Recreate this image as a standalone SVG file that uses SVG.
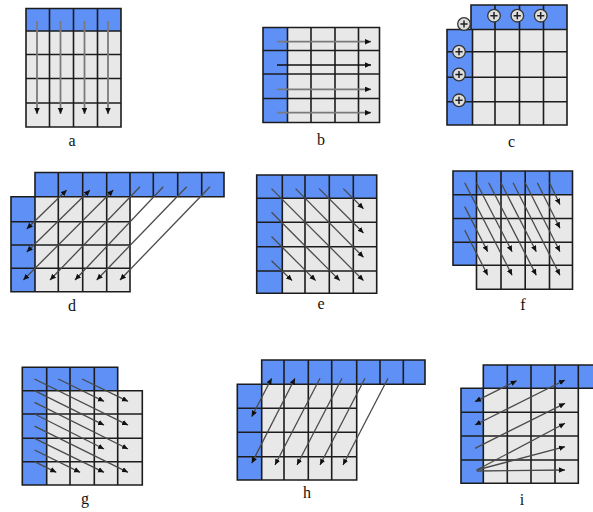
<svg xmlns="http://www.w3.org/2000/svg" xmlns:xlink="http://www.w3.org/1999/xlink" width="593" height="512" viewBox="0 0 593 512">
<style>
.b{fill:#5f90f6}
.g{fill:#e8e8e8}
.grid{fill:none;stroke:#1c1c1c;stroke-width:1.6}
.lbl{font-family:"Liberation Serif","Times New Roman",serif;font-size:16px;fill:#111;text-anchor:middle}
.ar{fill:none;stroke:#7a7a7a;stroke-width:1.8;marker-end:url(#ah)}
.ad{fill:none;stroke:#111;stroke-width:1.5;marker-end:url(#ah)}
.dl{fill:none;stroke:#4a4a4a;stroke-width:1.3;marker-end:url(#ah)}
.dd{fill:none;stroke:#4a4a4a;stroke-width:1.3;marker-end:url(#ah);marker-start:url(#ah)}
</style>
<defs>
<marker id="ah" markerUnits="userSpaceOnUse" markerWidth="7" markerHeight="6" refX="6" refY="2.75" orient="auto-start-reverse">
<path d="M0,0 L6,2.75 L0,5.5 Z" fill="#111"/>
</marker>
<g id="plus">
<circle r="6.3" fill="#dedede" stroke="#333" stroke-width="1.3"/>
<path d="M-3.6,0H3.6M0,-3.6V3.6" stroke="#222" stroke-width="1.5"/>
</g>
</defs>
<rect width="593" height="512" fill="#fff"/>

<g id="panel-a">
<rect class="b" x="26" y="8.5" width="95" height="22.5"/>
<rect class="g" x="26" y="31" width="95" height="96"/>
<path class="grid" d="M26,8.5H121V127H26Z M49.5,8.5V127 M73.5,8.5V127 M97.5,8.5V127 M26,31H121 M26,54.5H121 M26,78.5H121 M26,103H121"/>
<text class="lbl" x="72" y="146">a</text>
</g>

<g id="panel-b">
<rect class="b" x="263" y="27.5" width="24.5" height="95"/>
<rect class="g" x="287.5" y="27.5" width="92" height="95"/>
<path class="grid" d="M263,27.5H379.5V122.5H263Z M287.5,27.5V122.5 M311,27.5V122.5 M335,27.5V122.5 M358.5,27.5V122.5 M263,50.5H379.5 M263,74H379.5 M263,98.5H379.5"/>
<text class="lbl" x="321" y="145">b</text>
</g>

<g id="panel-c">
<rect class="b" x="471" y="5" width="96" height="24.5"/>
<rect class="b" x="447" y="29.5" width="25.5" height="95.5"/>
<rect class="g" x="472.5" y="29.5" width="94.5" height="95.5"/>
<path class="grid" d="M471,5H567V29.5H471Z M495,5V29.5 M519.5,5V29.5 M543.5,5V29.5 M447,29.5H472.5V125H447Z M472.5,29.5H567V125H472.5Z M495,29.5V125 M519.5,29.5V125 M543.5,29.5V125 M447,51.7H567 M447,77.3H567 M447,101.7H567"/>
<use xlink:href="#plus" href="#plus" x="494" y="15.7"/>
<use xlink:href="#plus" href="#plus" x="517.3" y="15.7"/>
<use xlink:href="#plus" href="#plus" x="540.7" y="15.7"/>
<use xlink:href="#plus" href="#plus" x="464" y="24"/>
<use xlink:href="#plus" href="#plus" x="459" y="51.7"/>
<use xlink:href="#plus" href="#plus" x="459" y="74.5"/>
<use xlink:href="#plus" href="#plus" x="459" y="100.3"/>
<text class="lbl" x="511.5" y="147">c</text>
</g>

<g id="panel-d">
<rect class="b" x="35" y="172.5" width="189" height="24.2"/>
<rect class="b" x="11" y="196.7" width="24" height="95"/>
<rect class="g" x="35" y="196.7" width="95" height="95"/>
<path class="grid" d="M35,172.5H224V196.7H35Z M58.3,172.5V196.7 M82.7,172.5V196.7 M106.7,172.5V196.7 M130,172.5V196.7 M153.3,172.5V196.7 M177.7,172.5V196.7 M201.7,172.5V196.7 M11,196.7H35V291.7H11Z M35,196.7H130V291.7H35Z M58.3,196.7V291.7 M82.7,196.7V291.7 M106.7,196.7V291.7 M11,221.7H130 M11,245H130 M11,268.3H130"/>
<text class="lbl" x="72" y="311">d</text>
</g>

<g id="panel-e">
<rect class="b" x="256.7" y="175" width="120" height="23.3"/>
<rect class="b" x="256.7" y="198.3" width="25.6" height="95"/>
<rect class="g" x="282.3" y="198.3" width="94.4" height="95"/>
<path class="grid" d="M256.7,175H376.7V293.3H256.7Z M282.3,175V293.3 M305,175V293.3 M329.3,175V293.3 M353.3,175V293.3 M256.7,198.3H376.7 M256.7,222.3H376.7 M256.7,246.7H376.7 M256.7,271H376.7"/>
<text class="lbl" x="321" y="309">e</text>
</g>

<g id="panel-f">
<rect class="b" x="453" y="171" width="119.5" height="23.7"/>
<rect class="b" x="453" y="194.7" width="23.5" height="70.5"/>
<rect class="g" x="476.5" y="194.7" width="96" height="94.6"/>
<path class="grid" d="M453,171H572.5V289.3H476.5V265.2H453Z M476.5,171V289.3 M501,171V289.3 M525.2,171V289.3 M549.5,171V289.3 M453,194.7H572.5 M453,218.5H572.5 M453,242.2H572.5 M476.5,265.2H572.5"/>
<text class="lbl" x="523" y="310">f</text>
</g>

<g id="panel-g">
<rect class="b" x="22.3" y="367.3" width="95.4" height="23.4"/>
<rect class="b" x="22.3" y="390.7" width="24.4" height="94.3"/>
<rect class="g" x="46.7" y="390.7" width="95.6" height="94.3"/>
<path class="grid" d="M22.3,367.3H117.7V390.7H142.3V485H22.3Z M46.7,367.3V485 M70,367.3V485 M94.3,367.3V485 M117.7,390.7V485 M22.3,390.7H117.7 M22.3,414H142.3 M22.3,438.3H142.3 M22.3,461.7H142.3"/>
<text class="lbl" x="85" y="504">g</text>
</g>

<g id="panel-h">
<rect class="b" x="261.7" y="360" width="163.3" height="24.3"/>
<rect class="b" x="237.3" y="384.3" width="24.4" height="95.7"/>
<rect class="g" x="261.7" y="384.3" width="95" height="95.7"/>
<path class="grid" d="M261.7,360H425V384.3H261.7Z M284,360V384.3 M308.3,360V384.3 M331.7,360V384.3 M356.7,360V384.3 M380,360V384.3 M403.3,360V384.3 M237.3,384.3H261.7V480H237.3Z M261.7,384.3H356.7V480H261.7Z M284,384.3V480 M308.3,384.3V480 M331.7,384.3V480 M237.3,408.3H356.7 M237.3,432.3H356.7 M237.3,456.7H356.7"/>
<text class="lbl" x="307" y="498">h</text>
</g>

<g id="panel-i">
<rect class="b" x="483.3" y="365" width="115" height="23.3"/>
<rect class="b" x="461" y="388.3" width="22.3" height="95"/>
<rect class="g" x="483.3" y="388.3" width="95" height="95"/>
<path class="grid" d="M600,365H483.3V483.3H578.3V388.3 M600,388.3H461V483.3H483.3 M507.3,365V483.3 M531,365V483.3 M555,365V483.3 M578.3,365V388.3 M461,412.3H578.3 M461,436H578.3 M461,460H578.3"/>
<text class="lbl" x="522" y="505">i</text>
</g>

<g id="connectors">
<g id="conn-a">
<path class="ar" d="M37,21V114"/>
<path class="ar" d="M60.5,21V114"/>
<path class="ar" d="M84.5,21V114"/>
<path class="ar" d="M108,21V114"/>
</g>
<g id="conn-b">
<path class="ar" d="M277,41.7H371"/>
<path class="ad" d="M277,65H371"/>
<path class="ar" d="M277,89.3H371"/>
<path class="ar" d="M277,112.7H371"/>
</g>
<g id="conn-d">
<path class="dd" d="M66.7,190L26.7,229"/>
<path class="dd" d="M90,190L26.7,252"/>
<path class="dd" d="M113.3,190L23.3,280"/>
<path class="dl" d="M140,186.7L50,280"/>
<path class="dl" d="M163.3,186.7L75,280"/>
<path class="dl" d="M186.7,186.7L96.7,280"/>
<path class="dl" d="M210,186.7L120,280"/>
</g>
<g id="conn-e">
<path class="dl" d="M271.5,188.6L363.5,280.6"/>
<path class="dl" d="M295.6,188.6L363.5,257.3"/>
<path class="dl" d="M319.1,188.6L363.5,233"/>
<path class="dl" d="M343.3,188.6L363.5,208.8"/>
<path class="dl" d="M271.5,212.3L339.8,280.6"/>
<path class="dl" d="M271.5,236.5L315.6,280.6"/>
<path class="dl" d="M271.5,260.8L292.1,280.6"/>
</g>
<g id="conn-f">
<path class="dl" d="M464.7,182.8L512.1,275.2"/>
<path class="dl" d="M488.7,182.8L536.3,275.2"/>
<path class="dl" d="M513.1,182.8L560,275.2"/>
<path class="dl" d="M537.3,182.8L560,228.3"/>
<path class="dl" d="M464.7,206.6L487.7,251.7"/>
<path class="dl" d="M464.7,230.3L487.7,275.2"/>
<path class="dl" d="M476.5,182.8L512.1,251.7"/>
<path class="dl" d="M501,182.8L536.3,251.7"/>
<path class="dl" d="M525.2,182.8L560,251.7"/>
<path class="dl" d="M549.5,182.8L560,204.6"/>
</g>
<g id="conn-g">
<path class="dl" d="M34.5,379L128,425.1"/>
<path class="dl" d="M58.3,379L104,401.3"/>
<path class="dl" d="M82.1,379L128,401.3"/>
<path class="dl" d="M34.5,402.3L128,449"/>
<path class="dl" d="M34.5,426.1L128,472.3"/>
<path class="dl" d="M34.5,450L80.1,472.3"/>
<path class="dl" d="M34.5,390.7L104,425.1"/>
<path class="dl" d="M34.5,414L104,449"/>
<path class="dl" d="M34.5,438.3L104,472.3"/>
<path class="dl" d="M34.5,461.7L56.3,472.3"/>
</g>
<g id="conn-h">
<path class="dd" d="M271.7,378.3L251.7,416.7"/>
<path class="dd" d="M295,378.3L251.7,463.3"/>
<path class="dl" d="M320,378.3L275,465"/>
<path class="dl" d="M342,378.3L297,465"/>
<path class="dl" d="M365,378.3L320,465"/>
<path class="dl" d="M388,378.3L343,465"/>
</g>
<g id="conn-i">
<path class="dd" d="M475,401.7L516.7,380.7"/>
<path class="dd" d="M475,425L565,380"/>
<path class="dl" d="M475,448.3L565,403.3"/>
<path class="dl" d="M476.7,470L565,423.3"/>
<path class="dl" d="M476.7,470L565,446.7"/>
<path class="dl" d="M476.7,471L565,470"/>
</g>
</g>
</svg>
